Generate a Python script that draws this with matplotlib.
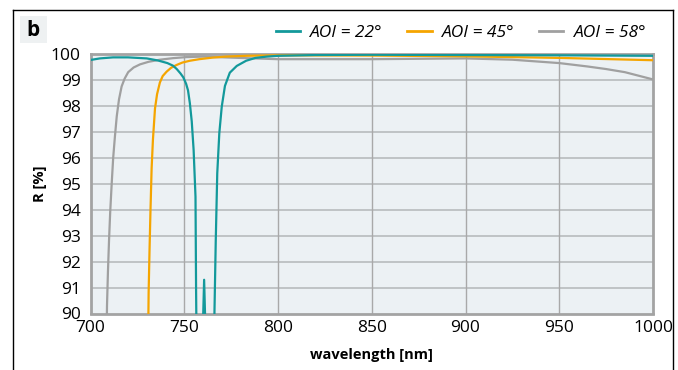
import matplotlib
matplotlib.use("Agg")
import matplotlib.pyplot as plt
from matplotlib.lines import Line2D
from matplotlib.patches import Rectangle

plt.rcParams['font.family'] = ['Open Sans', 'DejaVu Sans']

# AOI = 22 deg
wl_22 = [700, 705, 712, 720, 730, 736, 741, 744, 746, 748, 749.5, 751, 752, 753,
         754, 755, 756, 756.3, 756.8, 759.4, 760.6, 761.8, 764, 766.1, 766.8,
         767.6, 768.7, 770, 771.7, 774.3, 778, 783, 788, 794, 800, 820, 850,
         900, 950, 1000]
r_22 = [99.77, 99.83, 99.87, 99.87, 99.83, 99.75, 99.65, 99.55, 99.42, 99.25,
        99.1, 98.85, 98.6, 98.1, 97.4, 96.3, 94.5, 91.0, 87.0, 88.0, 91.3, 88.0,
        87.0, 90.0, 92.8, 95.4, 96.95, 97.97, 98.77, 99.28, 99.54, 99.74, 99.85,
        99.9, 99.93, 99.96, 99.97, 99.96, 99.95, 99.93]

# AOI = 45 deg
wl_45 = [730.6, 731, 731.5, 732, 732.6, 733.3, 734.4, 735.5, 737, 738.5, 740.6,
         743, 746, 749, 753, 758, 765, 772, 783, 800, 850, 900, 950, 1000]
r_45 = [88.0, 90.8, 92.5, 94.0, 95.6, 96.7, 97.9, 98.45, 98.9, 99.15, 99.32,
        99.47, 99.58, 99.67, 99.74, 99.8, 99.86, 99.9, 99.93, 99.95, 99.94,
        99.91, 99.85, 99.76]

# AOI = 58 deg
wl_58 = [708.4, 708.8, 709.3, 709.9, 710.5, 711.3, 712.1, 713, 714, 715.2, 716.6,
         718.2, 720.1, 723, 726.4, 731, 737, 744, 751, 760, 775, 800, 850, 900,
         925, 950, 965, 975, 985, 1000]
r_58 = [88.0, 90.3, 91.6, 92.85, 93.9, 95.0, 96.0, 96.8, 97.6, 98.25, 98.75,
        99.05, 99.3, 99.48, 99.6, 99.7, 99.78, 99.84, 99.88, 99.9, 99.86, 99.8,
        99.8, 99.83, 99.78, 99.65, 99.52, 99.42, 99.3, 99.02]

x_ticks = [700, 750, 800, 850, 900, 950, 1000]
y_ticks = [90, 91, 92, 93, 94, 95, 96, 97, 98, 99, 100]

teal = '#13999B'
orange = '#F5A500'
grey = '#A0A0A0'

W, H = 678, 370
fig = plt.figure(figsize=(W / 100, H / 100), dpi=100)

# outer frame, open at the bottom
for xs, ys in [([13, 13], [10, 370]), ([13, 673], [10, 10]), ([673, 673], [10, 370])]:
    fig.add_artist(Line2D([x / W for x in xs], [1 - y / H for y in ys],
                          color='black', lw=1.0, transform=fig.transFigure))
# panel label
fig.add_artist(Rectangle((20 / W, 1 - 43 / H), 27 / W, 27 / H, transform=fig.transFigure,
                         facecolor='#EEF1F2', edgecolor='none'))
fig.text(33.5 / W, 1 - 30 / H, 'b', fontsize=15, fontweight='bold', ha='center', va='center')

left, right, top, bottom = 90.5, 653, 54, 313.5
ax = fig.add_axes([left / W, 1 - bottom / H, (right - left) / W, (bottom - top) / H])
ax.set_facecolor('#ECF1F4')

ax.plot(wl_22, r_22, color=teal, lw=1.6, label='AOI = 22°', zorder=5)
ax.plot(wl_45, r_45, color=orange, lw=1.6, label='AOI = 45°', zorder=4)
ax.plot(wl_58, r_58, color=grey, lw=1.6, label='AOI = 58°', zorder=3)

ax.set_xlim(700, 1000)
ax.set_ylim(90, 100)
ax.set_xticks(x_ticks)
ax.set_yticks(y_ticks)
for y in y_ticks[1:-1]:
    ax.axhline(y, color='#BFC3C5', lw=1.4, zorder=1)
for x in x_ticks[1:-1]:
    ax.axvline(x, color='#A9A9A9', lw=1.0, zorder=1)
for s in ax.spines.values():
    s.set_color('#A3A3A3')
    s.set_linewidth(2.0)
ax.tick_params(length=0, labelsize=12.5)
ax.tick_params(axis='y', pad=7)
ax.tick_params(axis='x', pad=5)

fig.text(40 / W, 1 - 184 / H, 'R [%]', rotation=90, fontsize=10.5, fontweight='bold',
         ha='center', va='center')
fig.text(371 / W, 1 - 355 / H, 'wavelength [nm]', fontsize=10.5, fontweight='bold',
         ha='center', va='center')

leg = fig.legend(loc='center right', bbox_to_anchor=(662 / W, 1 - 33 / H), ncol=3,
                 frameon=False, handlelength=1.4, handletextpad=0.6, columnspacing=1.4,
                 prop={'size': 12.5, 'style': 'italic'})
for h in leg.legend_handles:
    h.set_linewidth(2.0)

fig.savefig('out.png', dpi=100)
